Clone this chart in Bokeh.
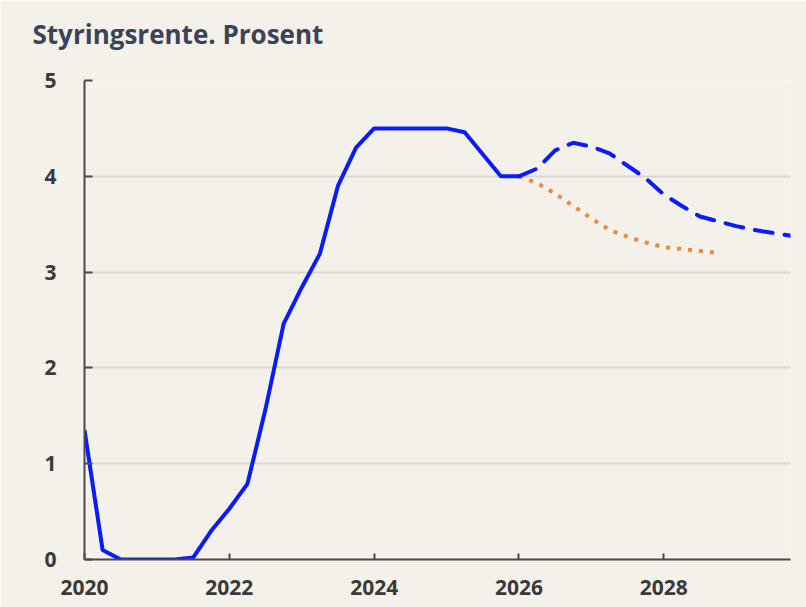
from bokeh.plotting import figure
from bokeh.models import Range1d, FixedTicker, ColumnDataSource, Title
from bokeh.embed import file_html
from bokeh.resources import INLINE

# ---- data (quarterly, first quarter 2020Q1) ----
title_text = "Styringsrente. Prosent"
start_year = 2020
hist_values = [1.35, 0.10, 0.0, 0.0, 0.0, 0.0, 0.02, 0.30,
               0.53, 0.79, 1.57, 2.46, 2.84, 3.19, 3.90, 4.30,
               4.50, 4.50, 4.50, 4.50, 4.50, 4.46, 4.23, 4.00, 4.00]
new_path = [4.00, 4.08, 4.27, 4.35, 4.31, 4.24, 4.11, 3.98,
            3.81, 3.69, 3.58, 3.53, 3.48, 3.44, 3.41, 3.38]
old_path = [4.00, 3.93, 3.82, 3.69, 3.56, 3.44, 3.37, 3.31,
            3.26, 3.24, 3.22, 3.20]
x_ticks = [2020, 2022, 2024, 2026, 2028]
y_ticks = [0, 1, 2, 3, 4, 5]
forecast_start_index = 24

def qx(i):
    return start_year + i * 0.25

hist_src = ColumnDataSource(dict(x=[qx(i) for i in range(len(hist_values))], y=hist_values))
new_src = ColumnDataSource(dict(x=[qx(forecast_start_index + i) for i in range(len(new_path))], y=new_path))
old_src = ColumnDataSource(dict(x=[qx(forecast_start_index + i) for i in range(len(old_path))], y=old_path))

BG = "#f4f1ea"
BLUE = "#0a1cff"
ORANGE = "#ec8a45"

W, H = 806, 607
p = figure(width=W, height=H, output_backend="svg", toolbar_location=None,
           x_range=Range1d(2020, 2029.75), y_range=Range1d(0, 5),
           min_border_left=84, min_border_right=16, min_border_top=80, min_border_bottom=48,
           title=None)
p.background_fill_color = BG
p.border_fill_color = BG
p.outline_line_color = None

# spacer panel between title and plot frame
spacer = Title(text=" ", text_font_size="1px", standoff=26, text_color=BG)
p.add_layout(spacer, "above")
main_title = Title(text=title_text, align="left", offset=-52, standoff=0,
                   text_font="Open Sans", text_font_size="26px", text_font_style="bold",
                   text_color="#3a4456")
p.add_layout(main_title, "above")

p.line("x", "y", source=old_src, line_color=ORANGE, line_width=4, line_dash="4 7", line_cap="butt")
p.line("x", "y", source=new_src, line_color=BLUE, line_width=4, line_dash="18 12", line_cap="round")
p.line("x", "y", source=hist_src, line_color=BLUE, line_width=4, line_join="round")

p.xgrid.grid_line_color = None
p.ygrid.grid_line_color = "#dcd8d0"
p.ygrid.grid_line_width = 2
p.ygrid.ticker = FixedTicker(ticks=y_ticks)

for ax in (p.xaxis[0], p.yaxis[0]):
    ax.axis_line_color = "#4a4a4a"
    ax.axis_line_width = 2
    ax.major_tick_line_color = "#4a4a4a"
    ax.major_tick_line_width = 2
    ax.minor_tick_line_color = None
    ax.major_tick_out = 0
    ax.major_label_text_font = "Open Sans"
    ax.major_label_text_font_style = "bold"
    ax.major_label_text_font_size = "21px"
    ax.major_label_text_color = "#3a3a3a"

p.xaxis.ticker = FixedTicker(ticks=x_ticks)
p.xaxis.major_tick_in = 6
p.xaxis.major_label_standoff = 20
p.yaxis.ticker = FixedTicker(ticks=y_ticks)
p.yaxis.major_tick_in = 8
p.yaxis.major_label_standoff = 28

open("out.html", "w").write(file_html(p, INLINE))
